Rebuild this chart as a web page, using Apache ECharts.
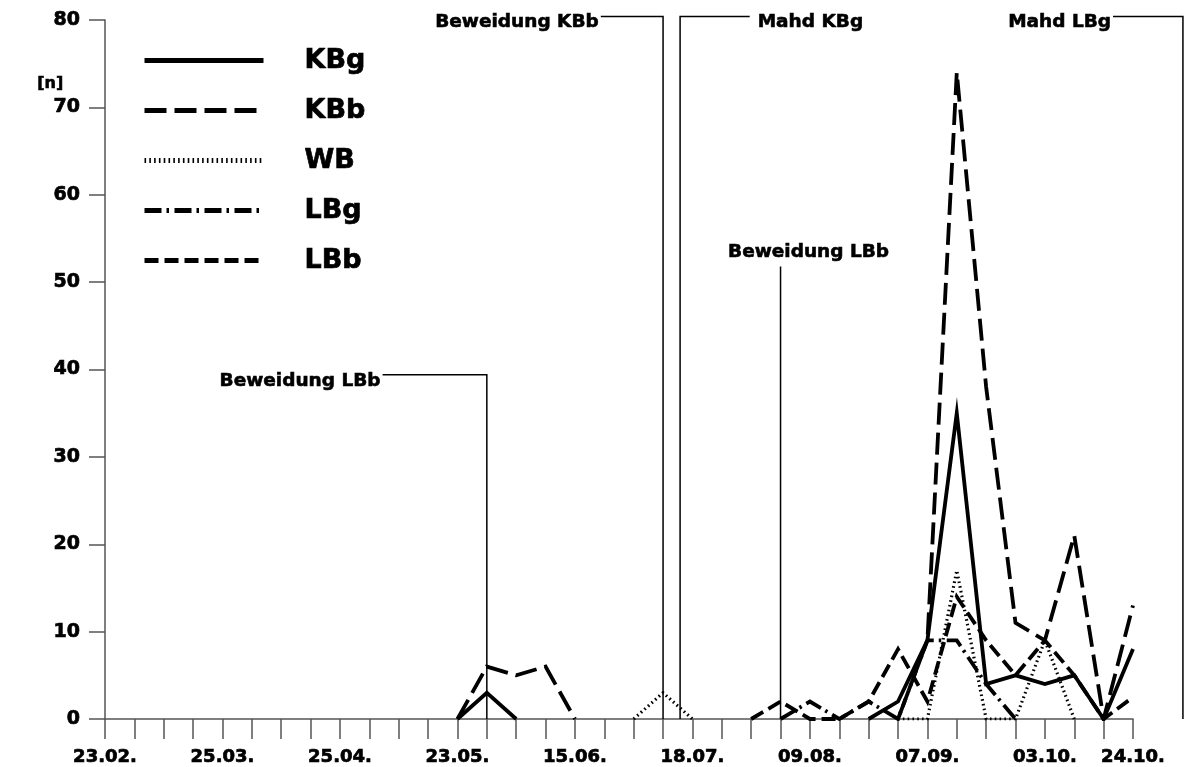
<!DOCTYPE html>
<html>
<head>
<meta charset="utf-8">
<script src="https://cdn.jsdelivr.net/npm/echarts@6/dist/echarts.min.js"></script>
<style>
  html, body { margin: 0; padding: 0; background: #fff; }
  #chart { width: 1192px; height: 767px; }
</style>
</head>
<body>
<div id="chart"></div>
<script>
// Sampling dates (one tick per sampling run); only some carry a label
const dateLabels = [
  '23.02.', '', '', '', '25.03.', '', '', '', '25.04.', '', '', '',
  '23.05.', '', '', '', '15.06.', '', '', '', '18.07.', '', '', '',
  '09.08.', '', '', '', '07.09.', '', '', '', '03.10.', '', '', '24.10.'
];

// Counts [n] per sampling run; null = no record plotted
const KBg = [null, null, null, null, null, null, null, null, null, null, null, null,
  0, 3, 0, null, null, null, null, null, null, null, null, null,
  null, null, 0, 2, 9, 35, 4, 5, 4, 5, 0, 8];
const KBb = [null, null, null, null, null, null, null, null, null, null, null, null,
  0, 6, 5, 6, 0, null, null, null, null, null, null, null,
  null, null, null, 0, 9, 74, 38, 11, 9, 21, 0, 13];
const WB = [null, null, null, null, null, null, null, null, null, null, null, null,
  null, null, null, null, null, null, 0, 3, 0, null, null, null,
  null, null, null, 0, 0, 17, 0, 0, 9, 0, null, null];
const LBg = [null, null, null, null, null, null, null, null, null, null, null, null,
  null, null, null, null, null, null, null, null, null, null, null, 0,
  2, 0, 2, 0, 9, 9, 4, 0, null, null, null, null];
const LBb = [null, null, null, null, null, null, null, null, null, null, null, null,
  null, null, null, null, null, null, null, null, null, null, 0, 2,
  0, 0, 2, 8, 2, 14, 9, 5, 9, 5, 0, 2.5];

// Management events: position on the sampling axis, leader height, leader arm end
const noteText = ['Beweidung LBb', 'Beweidung KBb', 'Mahd KBg', 'Beweidung LBb', 'Mahd LBg'];
const noteAt   = [13, 19, 19.58, 23, 36.7];
const noteTop  = [39.4, 80.4, 80.4, 51.8, 80.4];
const noteArm  = [9.45, 16.88, 21.95, null, 34.32];

const FONT = '"DejaVu Sans", "Liberation Sans", Arial, sans-serif';
const toPairs = arr => arr.map((v, i) => [i, v]);

const lineSeries = (name, data, dash, width) => ({
  name,
  type: 'line',
  data: toPairs(data),
  symbol: 'none',
  connectNulls: false,
  lineStyle: { color: '#000', width: width, type: dash, cap: 'butt', join: 'miter' },
  itemStyle: { color: '#000' },
  z: 3
});

const heavy = { textBorderColor: '#000', textBorderWidth: 0.7 };

const chart = echarts.init(document.getElementById('chart'), null, { renderer: 'canvas' });

chart.setOption({
  animation: false,
  backgroundColor: '#fff',
  grid: { left: 105, right: 59, top: 20, bottom: 48, containLabel: false },
  legend: {
    orient: 'vertical',
    left: 137,
    top: 40,
    itemWidth: 119,
    itemHeight: 12,
    itemGap: 19,
    selectedMode: false,
    lineStyle: { width: 5 },
    itemStyle: { color: 'rgba(0,0,0,0)', borderWidth: 0, opacity: 0 },
    textStyle: Object.assign({
      fontFamily: FONT, fontWeight: 'bold', fontSize: 27, color: '#000',
      lineHeight: 31, padding: [0, 0, 0, 36]
    }, heavy),
    data: ['KBg', 'KBb', 'WB', 'LBg', 'LBb']
  },
  xAxis: {
    type: 'value',
    min: 0,
    max: 35,
    interval: 1,
    splitLine: { show: false },
    axisLine: { onZero: true, lineStyle: { color: '#555', width: 1.5 } },
    axisTick: { show: true, inside: false, length: 20, lineStyle: { color: '#555', width: 1.5 } },
    axisLabel: Object.assign({
      margin: 29,
      fontFamily: FONT, fontWeight: 'bold', fontSize: 18, color: '#000',
      showMinLabel: true, showMaxLabel: true,
      formatter: v => dateLabels[Math.round(v)] || ''
    }, heavy)
  },
  yAxis: {
    type: 'value',
    min: 0,
    max: 80,
    interval: 10,
    splitLine: { show: false },
    axisLine: { show: true, lineStyle: { color: '#555', width: 1.5 } },
    axisTick: { show: true, inside: false, length: 16, lineStyle: { color: '#555', width: 1.5 } },
    axisLabel: Object.assign({
      margin: 25,
      fontFamily: FONT, fontWeight: 'bold', fontSize: 19, color: '#000'
    }, heavy)
  },
  graphic: [{
    type: 'text',
    left: 37,
    top: 76,
    style: { text: '[n]', font: 'bold 16px ' + FONT, fill: '#000', stroke: '#000', lineWidth: 0.6 }
  }],
  series: [
    lineSeries('KBg', KBg, 'solid', 3.8),
    lineSeries('KBb', KBb, [22, 8], 3.8),
    lineSeries('WB', WB, [1.6, 3.2], 3.2),
    lineSeries('LBg', LBg, [17, 5, 2.5, 5.5], 3.8),
    lineSeries('LBb', LBb, [14, 6], 3.8),
    {
      name: 'events',
      type: 'custom',
      clip: false,
      silent: true,
      z: 2,
      data: noteAt.map((x, i) => [x, noteTop[i]]),
      renderItem: function (params, api) {
        const i = params.dataIndex;
        const base = api.coord([noteAt[i], 0]);
        const top = api.coord([noteAt[i], noteTop[i]]);
        const pts = [base, top];
        let tx, ty, align;
        if (noteArm[i] != null) {
          const arm = api.coord([noteArm[i], noteTop[i]]);
          pts.push(arm);
          if (arm[0] < top[0]) { tx = arm[0] - 2; align = 'right'; }
          else { tx = arm[0] + 8; align = 'left'; }
          ty = top[1] + 6;
        } else {
          tx = top[0] + 28; align = 'center'; ty = top[1] - 14;
        }
        return {
          type: 'group',
          children: [
            { type: 'polyline', shape: { points: pts },
              style: { stroke: '#000', lineWidth: 1.5, fill: null } },
            { type: 'text',
              style: { x: tx, y: ty, text: noteText[i], align: align, verticalAlign: 'middle',
                       font: 'bold 18.5px ' + FONT, fill: '#000', stroke: '#000', lineWidth: 0.6 } }
          ]
        };
      }
    }
  ]
});
</script>
</body>
</html>
